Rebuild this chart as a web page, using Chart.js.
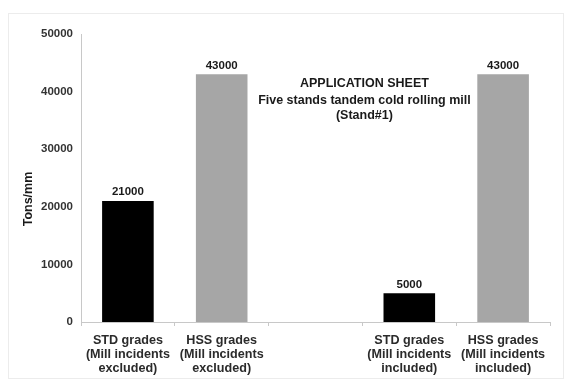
<!DOCTYPE html>
<html>
<head>
<meta charset="utf-8">
<script src="https://cdn.jsdelivr.net/npm/chart.js@4/dist/chart.umd.min.js"></script>
<style>
  html, body { margin: 0; padding: 0; background: #ffffff; }
  #wrap { width: 565px; height: 383px; }
</style>
</head>
<body>
<div id="wrap"><canvas id="c" width="565" height="383"></canvas></div>
<script>
// Categories (the third slot is an intentional spacer between the two groups)
const categories = [
  ["STD grades", "(Mill incidents", "excluded)"],
  ["HSS grades", "(Mill incidents", "excluded)"],
  "",
  ["STD grades", "(Mill incidents", "included)"],
  ["HSS grades", "(Mill incidents", "included)"]
];
// Tons/mm rolled per category
const values = [21000, 43000, null, 5000, 43000];
const barColors = ["#000000", "#a6a6a6", "#000000", "#000000", "#a6a6a6"];
const yAxisTitle = "Tons/mm";
const titleLines = ["APPLICATION SHEET", "Five stands tandem cold rolling mill", "(Stand#1)"];

const FONT = "'Liberation Sans', Arial, sans-serif";

// Faint outer frame
const framePlugin = {
  id: "frame",
  beforeDraw(chart) {
    const ctx = chart.ctx;
    ctx.save();
    ctx.fillStyle = "#ffffff";
    ctx.fillRect(0, 0, chart.width, chart.height);
    ctx.strokeStyle = "#ececec";
    ctx.lineWidth = 1;
    ctx.strokeRect(8.5, 13.5, 555, 365);
    ctx.restore();
  }
};

// Value labels above the bars, chart heading, rotated axis title
const annotatePlugin = {
  id: "annotate",
  afterDatasetsDraw(chart) {
    const ctx = chart.ctx;
    const meta = chart.getDatasetMeta(0);
    ctx.save();
    ctx.fillStyle = "#1a1a1a";
    ctx.font = "bold 11.5px " + FONT;
    ctx.textAlign = "center";
    ctx.textBaseline = "bottom";
    meta.data.forEach((bar, i) => {
      const v = values[i];
      if (v == null) return;
      ctx.fillText(String(v), bar.x, bar.y - 3);
    });

    // heading inside the plot
    const xs = chart.scales.x;
    const cx = (xs.getPixelForValue(2) + xs.getPixelForValue(3)) / 2 + 2;
    const top = chart.chartArea.top;
    ctx.textBaseline = "middle";
    ctx.font = "bold 12.5px " + FONT;
    ctx.fillText(titleLines[0], cx, top + 50);
    ctx.fillText(titleLines[1], cx, top + 67);
    ctx.fillText(titleLines[2], cx, top + 82);

    // y axis title
    ctx.translate(29, 199);
    ctx.rotate(-Math.PI / 2);
    ctx.font = "bold 12.5px " + FONT;
    ctx.fillText(yAxisTitle, 0, 0);
    ctx.restore();
  }
};

new Chart(document.getElementById("c"), {
  type: "bar",
  data: {
    labels: categories,
    datasets: [{
      data: values,
      backgroundColor: barColors,
      borderWidth: 0,
      barPercentage: 0.55,
      categoryPercentage: 1.0
    }]
  },
  options: {
    responsive: false,
    animation: false,
    devicePixelRatio: 1,
    layout: { padding: { left: 10, right: 15, top: 34, bottom: 0 } },
    plugins: {
      legend: { display: false },
      tooltip: { enabled: false },
      title: { display: false }
    },
    scales: {
      x: {
        offset: true,
        grid: {
          display: true,
          drawOnChartArea: false,
          drawTicks: true,
          tickLength: 4,
          color: "#c8c8c8",
          offset: true
        },
        border: { display: true, color: "#c8c8c8", width: 1 },
        ticks: {
          color: "#2b2b2b",
          font: { family: FONT, size: 12.6, weight: "bold", lineHeight: 1.11 },
          padding: 8,
          maxRotation: 0,
          autoSkip: false
        },
        afterFit(s) { s.height = 61; }
      },
      y: {
        min: 0,
        max: 50000,
        ticks: {
          stepSize: 10000,
          color: "#333333",
          font: { family: FONT, size: 11.5, weight: "bold" },
          padding: 8,
          callback: (v) => String(v)
        },
        grid: { display: false, drawTicks: false },
        border: { display: true, color: "#c8c8c8", width: 1 },
        afterFit(s) { s.width = 71; }
      }
    }
  },
  plugins: [framePlugin, annotatePlugin]
});
</script>
</body>
</html>
